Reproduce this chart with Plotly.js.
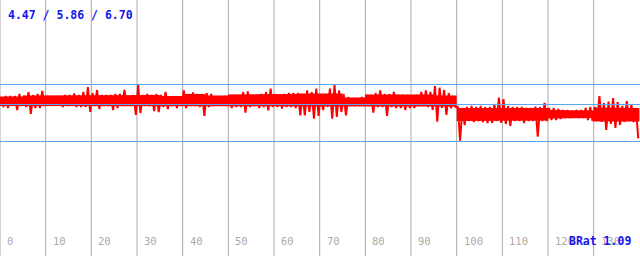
<!DOCTYPE html>
<html>
<head>
<meta charset="utf-8">
<script src="https://cdn.plot.ly/plotly-3.0.1.min.js"></script>
<style>
html,body{margin:0;padding:0;background:#fff;}
#chart{width:640px;height:256px;}
</style>
</head>
<body>
<div id="chart"></div>
<script>
// x ticks (grid) and their labels
var xTicks = [0,10,20,30,40,50,60,70,80,90,100,110,120,130];
var xTickLabels = ["0","10","20","30","40","50","60","70","80","90","100","110","120","130"];
// reference levels (y axis units, axis drawn reversed)
var refLevels = [84.5, 104.5, 141.5];
// per-step extremes of the red trace: upper (hi) and lower (lo), one per x step
var hiVals = [98,96,96,96,94,96,92,95,94,91,
  96,96,96,96,95,95,93.5,95,92,87,
  93,90,95,95,95,94,94,90,97,95,
  85,95,94,95,94,95,92,97,97,97,
  90.5,94,92.5,94,94,93,94,97,97,96,
  95,95,95,92,91.3,95,95,94,92,88.7,
  94,95,94,93,93,93,94,90.3,92,88.7,
  95,95,88.7,84.7,90.3,94,97,98,98,97,
  95,95,93,90.3,94,94,92,95,95,95,
  96,95,92,90.3,92,86,87.7,90,93,96,
  107,108,107,106,107,106,107,107,104,97.5,
  99,106,107,107,107,108,108,106.7,107,103,
  108,108,109,110,110,111,110,110,108,107,
  107,96,103,101.7,98,102,106,101,105,108];
var loVals = [107,108,105.5,110,106,107,114,108,108,106,
  105,105,105,107,106,105.5,107,107,107,112,
  106,109,106,106,110,108,106,106,106,115,
  113,106,106,111,112,107,109,106,108,106,
  108,106,106,107,116,107,106,105.5,105.5,106,
  108,107,107,112.7,107,106,108,107,110.3,107,
  107,108.7,107,107,108,115.3,115.3,112,118.7,116,
  110,107,118.7,117,112,115.3,106,106,106,106,
  106,112.7,107,107,116,107,108,108,110,108,
  108,106,106,107,110,121.7,108,115,108.3,107,
  140.7,125,121,122,121,122,123,123,121,123,
  124,126,121,121,123,121,121,136.7,121,121,
  120,120,119,118,118,117.7,118,118,120,121,
  121,122,130,124,128,125,122,121,122,138.3];
// dense core band of the red trace, one value per 5 x steps
var coreTop = [96.5,95.5,95.5,95,95,95,95,96,94,95.5,
  94.5,94.5,94,93.5,93.5,97.5,94.5,94.5,94.5,95.5,
  108,107.5,107.5,108,110,110.5,107.5,108];
var coreBot = [106,106,106,106,106,106,106,106,106,106,
  106,106,106,106.5,106.5,106,106,106,106,106.5,
  121,121,121,120.5,118.5,118,121.5,121.5];
var coreStep = 5;

// zig-zag trace from the extremes
var zx = [], zy = [];
for (var i = 0; i < hiVals.length; i++) {
  zx.push(i + 0.25); zy.push(hiVals[i]);
  zx.push(i + 0.75); zy.push(loVals[i]);
}
// filled core polygon
var cx = [], cy = [];
for (var s = 0; s < coreTop.length; s++) {
  cx.push(s*coreStep, (s+1)*coreStep); cy.push(coreTop[s], coreTop[s]);
}
for (var s2 = coreBot.length - 1; s2 >= 0; s2--) {
  cx.push((s2+1)*coreStep, s2*coreStep); cy.push(coreBot[s2], coreBot[s2]);
}

var shapes = [];
xTicks.forEach(function(t){
  shapes.push({type:'line', xref:'x', yref:'paper', x0:t, x1:t, y0:0, y1:1,
    line:{color:'#a8a8a8', width:1}, layer:'below'});
});
refLevels.forEach(function(v){
  shapes.push({type:'line', xref:'paper', yref:'y', x0:0, x1:1, y0:v, y1:v,
    line:{color:'#5aa5f5', width:1}, layer:'above'});
});

var annotations = [];
xTicks.forEach(function(t, k){
  annotations.push({x:t, xref:'x', y:1-241/256, yref:'paper', xanchor:'left', yanchor:'middle',
    xshift:5, text:xTickLabels[k], showarrow:false,
    font:{family:'DejaVu Sans Mono, monospace', size:10.5, color:'#aaaaaa'}});
});
annotations.push({x:6/640, xref:'paper', y:1-15/256, yref:'paper', xanchor:'left', yanchor:'middle',
  text:'<b>4.47 / 5.86 / 6.70</b>', showarrow:false,
  font:{family:'DejaVu Sans Mono, monospace', size:11.5, color:'#1414ee'}});
annotations.push({x:567/640, xref:'paper', y:1-241/256, yref:'paper', xanchor:'left', yanchor:'middle',
  text:'<b>BRat 1.09</b>', showarrow:false,
  font:{family:'DejaVu Sans Mono, monospace', size:11.5, color:'#1414ee'}});

var data = [{
  x: cx, y: cy, type:'scatter', mode:'lines', fill:'toself', fillcolor:'#ff0000',
  line:{color:'#ff0000', width:0}, hoverinfo:'skip'
},{
  x: zx, y: zy, type:'scatter', mode:'lines',
  line:{color:'#ff0000', width:2}, hoverinfo:'skip'
}];

var layout = {
  width:640, height:256,
  margin:{l:0, r:0, t:0, b:0},
  paper_bgcolor:'#ffffff', plot_bgcolor:'#ffffff',
  showlegend:false,
  xaxis:{range:[0, 140.14], showgrid:false, zeroline:false, showticklabels:false, ticks:''},
  yaxis:{range:[256, 0], showgrid:false, zeroline:false, showticklabels:false, ticks:''},
  shapes: shapes,
  annotations: annotations
};

Plotly.newPlot('chart', data, layout, {staticPlot:true, displayModeBar:false});
</script>
</body>
</html>
